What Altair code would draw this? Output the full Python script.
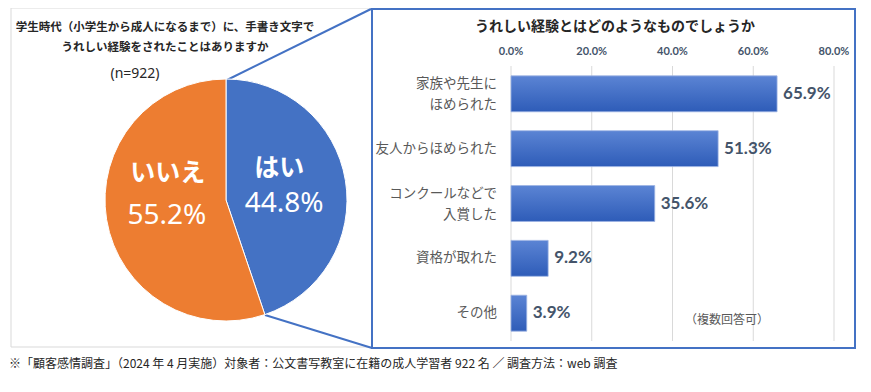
import altair as alt
import pandas as pd

# ---- data ----
pie_labels = ["はい", "いいえ"]
pie_values = [44.8, 55.2]
pie_colors = ["#4472c4", "#ed7d31"]

bar_cats = ["家族や先生にほめられた", "友人からほめられた", "コンクールなどで入賞した", "資格が取れた", "その他"]
bar_display = ["家族や先生に\nほめられた", "友人からほめられた", "コンクールなどで\n入賞した", "資格が取れた", "その他"]
bar_values = [65.9, 51.3, 35.6, 9.2, 3.9]

tick_values = [0, 20, 40, 60, 80]
tick_labels = ["0.0%", "20.0%", "40.0%", "60.0%", "80.0%"]

title_left_1 = "学生時代（小学生から成人になるまで）に、手書き文字で"
title_left_2 = "うれしい経験をされたことはありますか"
n_label = "(n=922)"
title_right = "うれしい経験とはどのようなものでしょうか"
multi_note = "（複数回答可）"
footnote = "※「顧客感情調査」（2024 年 4 月実施）対象者：公文書写教室に在籍の成人学習者  922 名  ／  調査方法：web 調査"

JP = "Noto Sans CJK JP"
NUM = "Noto Sans"

pie_df = pd.DataFrame({"label": pie_labels, "value": pie_values, "idx": [0, 1],
                       "pct": [f"{v:.1f}%" for v in pie_values]})
bar_df = pd.DataFrame({"cat": bar_cats, "disp": bar_display, "pct": bar_values,
                       "txt": [f"{v:.1f}%" for v in bar_values],
                       "multi": ["\n" in d for d in bar_display]})
tick_df = pd.DataFrame({"tick": tick_values, "lab": tick_labels})
one = pd.DataFrame({"a": [0]})

xscale = alt.Scale(domain=[0, 80], range=[503, 826], nice=False, zero=True)
yscale = alt.Scale(domain=bar_cats, range=[58, 333], paddingInner=0.345, paddingOuter=0.18)

# ---- frames & connectors ----
left_frame = alt.Chart(one).mark_rect(fillOpacity=0, stroke="#d9d9d9", strokeWidth=1).encode(
    x=alt.value(3), x2=alt.value(364), y=alt.value(0), y2=alt.value(339))
right_box = alt.Chart(one).mark_rect(fill="white", stroke="#4472c4", strokeWidth=2).encode(
    x=alt.value(364), x2=alt.value(847), y=alt.value(1), y2=alt.value(340))
conn1 = alt.Chart(one).mark_rule(color="#4472c4", strokeWidth=2).encode(
    x=alt.value(219), y=alt.value(72), x2=alt.value(363), y2=alt.value(1))
conn2 = alt.Chart(one).mark_rule(color="#4472c4", strokeWidth=2).encode(
    x=alt.value(257), y=alt.value(307), x2=alt.value(364), y2=alt.value(340))

# ---- pie ----
pie_base = alt.Chart(pie_df)
theta = alt.Theta("value:Q", stack=True)
arcs = pie_base.mark_arc(outerRadius=121, stroke="white", strokeWidth=1).encode(
    theta=theta,
    order=alt.Order("idx:Q"),
    color=alt.Color("label:N", scale=alt.Scale(domain=pie_labels, range=pie_colors), legend=None),
    x=alt.value(218), y=alt.value(192),
)

def pie_text(which, field, radius, dy, size, weight, font):
    return pie_base.transform_calculate(
        t=f"datum.label == '{which}' ? datum.{field} : ''"
    ).mark_text(radius=radius, dy=dy, fontSize=size, fontWeight=weight, font=font,
                color="white", align="center", baseline="middle").encode(
        theta=theta, order=alt.Order("idx:Q"), detail="label:N",
        text="t:N", x=alt.value(218), y=alt.value(192))

pt1 = pie_text("はい", "label", 54, -23, 25, "bold", JP)
pt2 = pie_text("はい", "pct", 59, 14, 28, "normal", NUM)
pt3 = pie_text("いいえ", "label", 59, -37, 25, "bold", JP)
pt4 = pie_text("いいえ", "pct", 60, 6, 28, "normal", NUM)

# ---- bar chart ----
grid = alt.Chart(tick_df).mark_rule(color="#d9d9d9", strokeWidth=1).encode(
    x=alt.X("tick:Q", scale=xscale, axis=None), y=alt.value(58), y2=alt.value(333))
ticks = alt.Chart(tick_df).mark_text(fontSize=11, fontWeight="bold", font="Lato",
                                     color="#44546a", baseline="middle").encode(
    x=alt.X("tick:Q", scale=xscale, axis=None), y=alt.value(44), text="lab:N")

grad = alt.LinearGradient(gradient="linear",
                          stops=[alt.GradientStop(color="#5b84d4", offset=0),
                                 alt.GradientStop(color="#2e5cb8", offset=1)],
                          x1=0, x2=0, y1=0, y2=1)
bars = alt.Chart(bar_df).mark_bar(color=grad, stroke="#9db4e3", strokeWidth=0.8).encode(
    x=alt.X("pct:Q", scale=xscale, axis=None),
    y=alt.Y("cat:N", scale=yscale, sort=bar_cats, axis=None))
values = alt.Chart(bar_df).mark_text(align="left", dx=6, fontSize=17, fontWeight="bold",
                                     font="Lato", color="#44546a", baseline="middle").encode(
    x=alt.X("pct:Q", scale=xscale, axis=None),
    y=alt.Y("cat:N", scale=yscale, sort=bar_cats, axis=None),
    text="txt:N")

def cat_layer(is_multi, dy):
    return alt.Chart(bar_df).transform_filter(
        alt.datum.multi == is_multi
    ).mark_text(align="right", baseline="middle", lineBreak="\n", dy=dy,
                lineHeight=21, fontSize=13.5, font=JP, color="#595959").encode(
        x=alt.value(489),
        y=alt.Y("cat:N", scale=yscale, sort=bar_cats, axis=None),
        text="disp:N")

cats_single = cat_layer(False, 0)
cats_multi = cat_layer(True, -10)

# ---- titles / notes ----
def label(txt, x, y, size, weight="normal", color="#262626", align="center", font=JP):
    return alt.Chart(one).mark_text(text=txt, fontSize=size, fontWeight=weight, color=color,
                                    align=align, baseline="middle", font=font).encode(
        x=alt.value(x), y=alt.value(y))

t1 = label(title_left_1, 157, 20, 11.5, "bold")
t2 = label(title_left_2, 157, 40, 11.5, "bold")
t3 = label(n_label, 127, 66, 14, "normal", font=NUM)
t4 = label(title_right, 607, 19, 14, "bold")
t5 = label(multi_note, 719, 312, 12, "normal", color="#595959")
t6 = label(footnote, 1, 356, 12, "normal", align="left")

chart = alt.layer(
    left_frame, right_box, conn1, conn2,
    arcs, pt1, pt2, pt3, pt4,
    grid, ticks, bars, values, cats_single, cats_multi,
    t1, t2, t3, t4, t5, t6,
).properties(
    width=855, height=376,
    autosize=alt.AutoSizeParams(type="none"),
    padding=0,
    background="white",
).configure_view(stroke=None)

chart.save("out.html", embed_options={"renderer": "svg", "actions": False})
